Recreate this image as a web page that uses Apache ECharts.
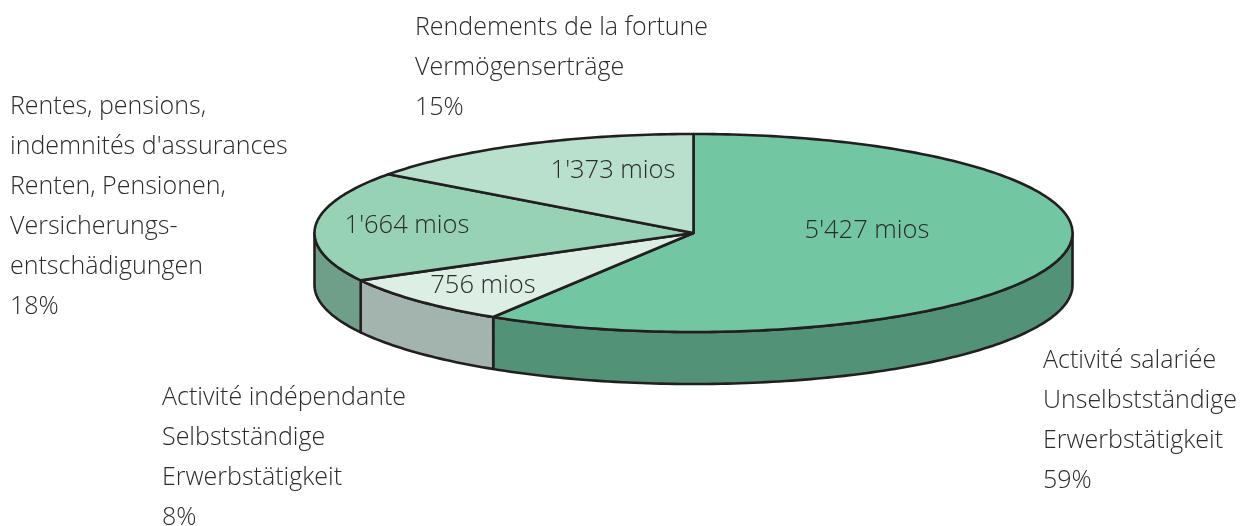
<!DOCTYPE html>
<html>
<head>
<meta charset="utf-8">
<title>Revenus</title>
<style>
html,body{margin:0;padding:0;background:#fff;}
#main{width:1240px;height:526px;}
</style>
<script src="https://cdn.jsdelivr.net/npm/echarts@6/dist/echarts.min.js"></script>
</head>
<body>
<div id="main"></div>
<script>
// valeurs en mios, sens horaire depuis le haut
var sliceValues = [5427, 756, 1664, 1373];
var sliceAmounts = ["5'427 mios", "756 mios", "1'664 mios", "1'373 mios"];
var slicePercents = ['59%', '8%', '18%', '15%'];
var sliceNames = [
    ['Activité salariée', 'Unselbstständige', 'Erwerbstätigkeit'],
    ['Activité indépendante', 'Selbstständige', 'Erwerbstätigkeit'],
    ['Rentes, pensions,', "indemnités d'assurances", 'Renten, Pensionen,', 'Versicherungs-', 'entschädigungen'],
    ['Rendements de la fortune', 'Vermögenserträge']
];
var topColors = ['#72c6a1', '#ddefe5', '#97d2b4', '#b9e0cd'];
var sideColors = ['#529378', '#a3b3ad', '#6f9f88', '#b9e0cd'];

var cx = 693.5, cy = 233, rx = 379, ry = 99, depth = 52;
var edgeColor = '#231f20';
var textColor = '#2b2b2b';
var fontFamily = '"Open Sans","Noto Sans",sans-serif';

var total = sliceValues.reduce(function (a, b) { return a + b; }, 0);

function pt(deg, dy) {
    var r = deg * Math.PI / 180;
    return [cx + rx * Math.sin(r), cy - ry * Math.cos(r) + (dy || 0)];
}
function arc(from, to, dy) {
    var pts = [];
    var n = Math.max(2, Math.ceil(Math.abs(to - from)));
    for (var i = 0; i <= n; i++) {
        pts.push(pt(from + (to - from) * i / n, dy));
    }
    return pts;
}
function startAngle(idx) {
    var sum = 0;
    for (var i = 0; i < idx; i++) sum += sliceValues[i];
    return sum / total * 360;
}

function renderSlice(params, api) {
    var idx = params.dataIndex;
    var a0 = startAngle(idx);
    var a1 = a0 + api.value(0) / total * 360;
    var children = [];
    // flanc visible seulement entre 90 et 270 degres
    var s0 = Math.max(a0, 90), s1 = Math.min(a1, 270);
    if (s1 > s0) {
        children.push({
            type: 'polygon',
            shape: { points: arc(s0, s1, 0).concat(arc(s1, s0, depth)) },
            style: { fill: sideColors[idx], stroke: edgeColor, lineWidth: 2.6, lineJoin: 'round' }
        });
    }
    children.push({
        type: 'polygon',
        shape: { points: [[cx, cy]].concat(arc(a0, a1, 0)) },
        style: { fill: topColors[idx], stroke: edgeColor, lineWidth: 2.6, lineJoin: 'round' }
    });
    return { type: 'group', children: children };
}

function textBlock(lines, x, y) {
    return {
        type: 'text', x: x, y: y, z: 10,
        style: {
            text: lines.join('\n'),
            fill: textColor,
            font: '300 25px ' + fontFamily,
            lineHeight: 40,
            verticalAlign: 'top'
        }
    };
}
function amountText(idx, x, y) {
    return {
        type: 'text', x: x, y: y, z: 10,
        style: {
            text: sliceAmounts[idx],
            fill: textColor,
            font: '300 25.5px ' + fontFamily,
            align: 'center',
            verticalAlign: 'middle'
        }
    };
}

var myChart = echarts.init(document.getElementById('main'), null, { renderer: 'canvas' });
var option = {
    backgroundColor: '#ffffff',
    animation: false,
    series: [{
        type: 'custom',
        coordinateSystem: 'none',
        silent: true,
        renderItem: renderSlice,
        data: sliceValues.map(function (v) { return [v]; })
    }],
    graphic: { elements: [
        amountText(0, 867, 231),
        amountText(1, 483, 286),
        amountText(2, 407, 226),
        amountText(3, 613, 171),
        textBlock(sliceNames[0].concat(slicePercents[0]), 1043, 341),
        textBlock(sliceNames[1].concat(slicePercents[1]), 162, 378),
        textBlock(sliceNames[2].concat(slicePercents[2]), 10, 87),
        textBlock(sliceNames[3].concat(slicePercents[3]), 415, 8)
    ] }
};
myChart.setOption(option);
</script>
</body>
</html>
